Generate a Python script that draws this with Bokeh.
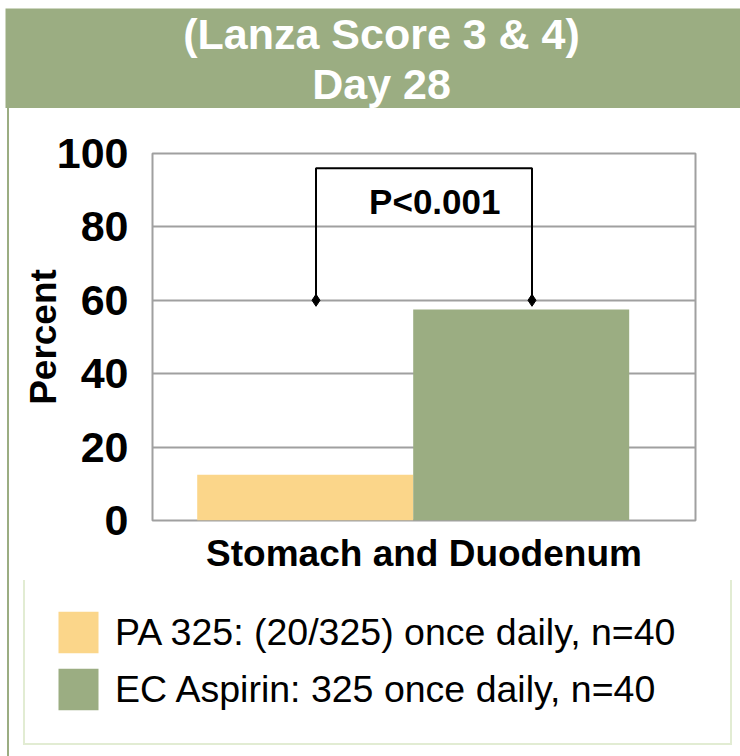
from bokeh.plotting import figure
from bokeh.models import FactorRange, Legend, LegendItem, Label, ColumnDataSource, Spacer
from bokeh.transform import dodge
from bokeh.embed import file_html
from bokeh.resources import INLINE
from bokeh.core.properties import value

# ---- data ----
title_lines = ["(Lanza Score 3 & 4)", "Day 28"]
series = ["PA 325: (20/325) once daily, n=40", "EC Aspirin: 325 once daily, n=40"]
percent = [12.5, 57.5]
bar_colors = ["#FBD68A", "#9BAD82"]
y_ticks = [0, 20, 40, 60, 80, 100]
x_label = "Stomach and Duodenum"
y_label = "Percent"
p_label = "P<0.001"
bracket_low = 60
bracket_high = 96
p_label_y = 87

FONT = "Liberation Sans"
GREEN = "#9BAD82"
GRID = "#A0A0A0"
LEFT_RULE = {"background": "linear-gradient(to right, #fff 7px, #9BAD82 7px, #9BAD82 9px, #fff 9px)"}

src = ColumnDataSource(dict(series=series, percent=percent, color=bar_colors))

# ---- title band ----
t = figure(width=735, height=100, x_range=(0, 1), y_range=(0, 1),
           toolbar_location=None, output_backend="svg", min_border=0,
           x_axis_location=None, y_axis_location=None)
t.styles = {"margin-left": "5px"}
t.grid.visible = False
t.outline_line_color = None
t.background_fill_color = GREEN
t.border_fill_color = GREEN
for txt, yy in zip(title_lines, [75, 25]):
    t.add_layout(Label(x=376, y=yy, x_units="screen", y_units="screen", text=txt,
                       text_align="center", text_baseline="middle", text_font=FONT,
                       text_font_style="bold", text_font_size="43px",
                       text_color="white"))

# ---- main chart ----
p = figure(width=740, height=472,
           x_range=FactorRange(*series, range_padding=0.257),
           y_range=(0, 100),
           toolbar_location=None, output_backend="svg",
           min_border_left=152, min_border_right=45,
           min_border_top=45, min_border_bottom=60)
p.styles = LEFT_RULE
p.background_fill_color = "white"
p.border_fill_color = None
p.outline_line_color = GRID
p.outline_line_width = 2

bars = p.vbar(x=dodge("series", -0.05, range=p.x_range), top="percent", bottom=0,
              width=1.0, color="color", line_color=None, source=src)

# significance bracket
p.line(x=[series[0], series[0], series[1], series[1]],
       y=[bracket_low, bracket_high, bracket_high, bracket_low],
       line_color="black", line_width=2)
p.scatter(x=series, y=[bracket_low, bracket_low], marker="diamond", size=12,
          color="black")
tsrc = ColumnDataSource(dict(x=[series[0]], y=[p_label_y], t=[p_label]))
p.text(x=dodge("x", 0.55, range=p.x_range), y="y", text="t", source=tsrc,
       text_font=value(FONT), text_font_style="bold", text_font_size="35px",
       text_align="center", text_baseline="middle", text_color="black")

# axes
p.yaxis.ticker = y_ticks
p.yaxis.axis_line_color = None
p.yaxis.major_tick_line_color = None
p.yaxis.minor_tick_line_color = None
p.yaxis.major_tick_out = 0
p.yaxis.major_tick_in = 0
p.yaxis.major_label_standoff = 24
p.yaxis.major_label_text_font = FONT
p.yaxis.major_label_text_font_style = "bold"
p.yaxis.major_label_text_font_size = "43px"
p.yaxis.major_label_text_color = "black"
p.yaxis.axis_label = y_label
p.yaxis.axis_label_text_font = FONT
p.yaxis.axis_label_text_font_style = "bold"
p.yaxis.axis_label_text_font_size = "37px"
p.yaxis.axis_label_text_color = "black"
p.yaxis.axis_label_standoff = -10

p.xaxis.axis_line_color = None
p.xaxis.major_tick_line_color = None
p.xaxis.minor_tick_line_color = None
p.xaxis.major_tick_out = 0
p.xaxis.major_tick_in = 0
p.xaxis.major_label_text_color = None
p.xaxis.major_label_text_font_size = "10px"
p.xaxis.major_label_standoff = 0
p.xaxis.axis_label = x_label
p.xaxis.axis_label_text_font = FONT
p.xaxis.axis_label_text_font_style = "bold"
p.xaxis.axis_label_text_font_size = "37px"
p.xaxis.axis_label_text_color = "black"
p.xaxis.axis_label_standoff = 12

p.xgrid.grid_line_color = None
p.ygrid.grid_line_color = GRID
p.ygrid.grid_line_width = 2

# ---- legend panel ----
lg = figure(width=740, height=176, x_range=(0, 1), y_range=(0, 1),
            toolbar_location=None, output_backend="svg", min_border=0,
            x_axis_location=None, y_axis_location=None)
lg.styles = LEFT_RULE
lg.grid.visible = False
lg.outline_line_color = None
lg.background_fill_color = None
lg.border_fill_color = None
# legend-only renderer (lies outside this panel's ranges, so only its swatches show)
key = lg.vbar(x="percent", top="percent", bottom=0, width=1, fill_color="color",
              line_color=None, source=src)
legend = Legend(items=[LegendItem(label=value(s), renderers=[key], index=i)
                       for i, s in enumerate(series)],
                location=(23, 11), orientation="vertical",
                glyph_width=50, glyph_height=52, label_width=587,
                label_standoff=12, spacing=5, padding=28, margin=0,
                border_line_color="#C6DAA8", border_line_width=2,
                background_fill_color="white", background_fill_alpha=1,
                label_text_font=FONT, label_text_font_size="37.5px",
                label_text_color="black")
lg.add_layout(legend)

open("out.html", "w").write(file_html([Spacer(width=740, height=8), t, p, lg], INLINE))
